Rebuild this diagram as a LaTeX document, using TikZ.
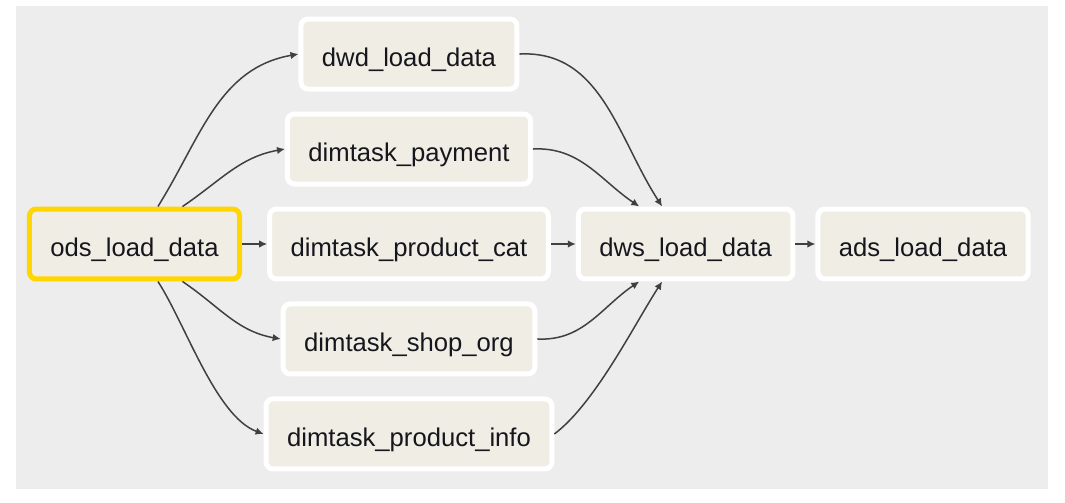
\documentclass[tikz,border=0pt]{standalone}
\usepackage{fontspec}
\setmainfont{Liberation Sans}
\usetikzlibrary{positioning, arrows.meta}
\definecolor{canvas}{RGB}{237, 237, 237}
\definecolor{taskfill}{RGB}{240, 237, 228}
\definecolor{running}{RGB}{255, 214, 0}
\definecolor{edgegrey}{RGB}{64, 64, 64}
\definecolor{ink}{RGB}{22, 22, 30}

\begin{document}
\begin{tikzpicture}[x=0.02cm, y=-0.02cm,
      t/.style={draw=white, line width=0.1cm, fill=taskfill, rounded corners=0.14cm, minimum height=1.4cm, inner xsep=0.42cm, text height=0.5cm, text depth=0cm, text=ink, font=\fontsize{14.6}{17}\selectfont},
      arr/.style={-{Latex[length=1.6mm, width=1.5mm]}, line width=0.03cm, color=edgegrey}]
    \useasboundingbox (0,0) rectangle (1065,503);
    \fill[canvas] (16,6) rectangle (1048,489);
    % tasks
    \node[t, draw=running] (ods) at (134.5,244) {ods\_load\_data};
    \node[t, right=0.5cm of ods] (cat) {dimtask\_product\_cat};
    \node[t, above=0.4cm of cat] (pay) {dimtask\_payment};
    \node[t, above=0.4cm of pay] (dwd) {dwd\_load\_data};
    \node[t, below=0.4cm of cat] (shop) {dimtask\_shop\_org};
    \node[t, below=0.4cm of shop] (info) {dimtask\_product\_info};
    \node[t, right=0.5cm of cat] (dws) {dws\_load\_data};
    \node[t, right=0.4cm of dws] (ads) {ads\_load\_data};
    % dependencies
    \draw[arr] (ods.58) to[out=58, in=190] (dwd.west);
    \draw[arr] (ods.38) to[out=34, in=190] (pay.west);
    \draw[arr] (ods) -- (cat);
    \draw[arr] (ods.-38) to[out=-34, in=170] (shop.west);
    \draw[arr] (ods.-58) to[out=-57, in=160, looseness=0.7] (info.west);
    \draw[arr] (dwd.east) to[out=3, in=123] (dws.122);
    \draw[arr] (pay.east) to[out=3, in=146] (dws.141);
    \draw[arr] (cat) -- (dws);
    \draw[arr] (shop.east) to[out=-3, in=-146] (dws.-141);
    \draw[arr] (info.east) to[out=37, in=-123, looseness=0.7] (dws.-122);
    \draw[arr] (dws) -- (ads);
  \end{tikzpicture}
\end{document}
